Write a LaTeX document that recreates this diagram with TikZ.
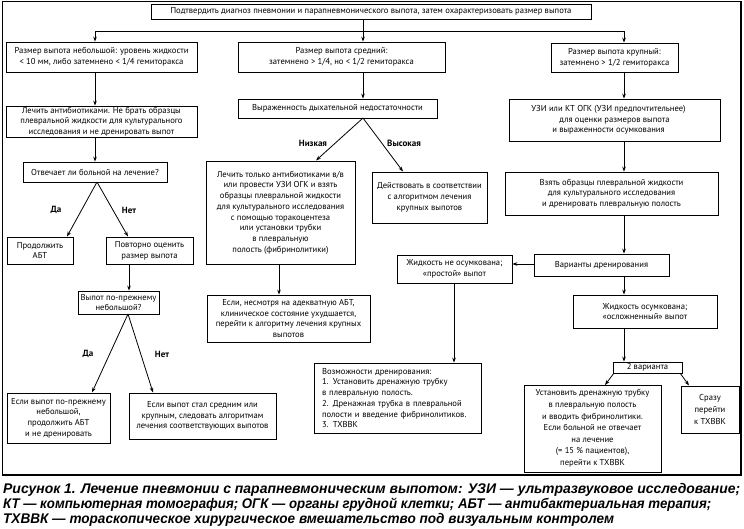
\documentclass[tikz,border=0pt]{standalone}
\usepackage{fontspec}
\usepackage{graphicx}
\setmainfont{PT Sans}
\newfontfamily\capfont{Liberation Sans}
\usetikzlibrary{arrows.meta}
\begin{document}
\begin{tikzpicture}[x=1pt,y=-1pt,
 bx/.style={draw, line width=0.8pt, inner sep=0pt, align=center, font=\fontsize{8.6}{10.7}\selectfont},
 conn/.style={line width=0.8pt},
 arr/.style={line width=0.8pt, -{Stealth[length=5pt,width=3.6pt]}},
 lab/.style={font=\fontsize{9}{11}\selectfont\bfseries, inner sep=0pt},
 captxt/.style={anchor=base west, inner sep=0pt, font=\capfont\fontsize{14}{15}\selectfont\bfseries\itshape}]
\useasboundingbox (0,0) rectangle (744,528);
\draw[line width=1.4pt] (2.5,1.5) rectangle (741,475);

% top row
\node[bx, minimum width=440, minimum height=15] (top) at (371,11.5) {Подтвердить диагноз пневмонии и парапневмонического выпота, затем охарактеризовать размер выпота};
\node[bx, minimum width=191, minimum height=30] (L1) at (101.5,57) {Размер выпота небольшой: уровень жидкости\\ < 10 мм, либо затемнено < 1/4 гемиторакса};
\node[bx, minimum width=207, minimum height=30] (M1) at (341.5,57) {Размер выпота средний:\\ затемнено > 1/4, но < 1/2 гемиторакса};
\node[bx, minimum width=127, minimum height=29] (R1) at (614.5,57.5) {Размер выпота крупный:\\ затемнено > 1/2 гемиторакса};

% left column
\node[bx, minimum width=191, minimum height=31] (L2) at (101.5,121.5) {Лечить антибиотиками. Не брать образцы\\ плевральной жидкости для культурального\\ исследования и не дренировать выпот};
\node[bx, minimum width=144, minimum height=20] (Q1) at (95,172) {Отвечает ли больной на лечение?};
\node[bx, minimum width=66, minimum height=27] (C1) at (40,250.5) {Продолжить\\ АБТ};
\node[bx, minimum width=87, minimum height=27] (P1) at (149.5,250.5) {Повторно оценить\\ размер выпота};
\node[bx, minimum width=81, minimum height=23] (Q2) at (118.5,302.5) {Выпот по-прежнему\\ небольшой?};
\node[bx, minimum width=103, minimum height=50] (E1) at (58.5,418) {Если выпот по-прежнему\\ небольшой,\\ продолжить АБТ\\ и не дренировать};
\node[bx, minimum width=147, minimum height=46] (E2) at (202.5,416) {Если выпот стал средним или\\ крупным, следовать алгоритмам\\ лечения соответствующих выпотов};

% middle column
\node[bx, minimum width=199, minimum height=19] (M2) at (337.5,108.5) {Выраженность дыхательной недостаточности};
\node[bx, minimum width=149, minimum height=103] (ML) at (280.5,212.5) {Лечить только антибиотиками в/в\\ или провести УЗИ ОГК и взять\\ образцы плевральной жидкости\\ для культурального исследования\\ с помощью торакоцентеза\\ или установки трубки\\ в плевральную\\ полость (фибринолитики)};
\node[bx, minimum width=115, minimum height=51] (MH) at (429.5,197.5) {Действовать в соответствии\\ с алгоритмом лечения\\ крупных выпотов};
\node[bx, minimum width=163, minimum height=47] (MW) at (288.5,318.5) {Если, несмотря на адекватную АБТ,\\ клиническое состояние ухудшается,\\ перейти к алгоритму лечения крупных\\ выпотов};

% right column
\node[bx, minimum width=211, minimum height=42] (R2) at (614.5,120) {УЗИ или КТ ОГК (УЗИ предпочтительнее)\hspace*{12pt}\\ для оценки размеров выпота\hspace*{12pt}\\ и выраженности осумкования\hspace*{12pt}};
\node[bx, minimum width=213, minimum height=43] (R3) at (611.5,193.5) {Взять образцы плевральной жидкости\\ для культурального исследования\\ и дренировать плевральную полость};
\node[bx, minimum width=135, minimum height=22] (R4) at (601.5,265) {Варианты дренирования};
\node[bx, minimum width=115, minimum height=28] (S1) at (454.5,269) {Жидкость не осумкована;\\ «простой» выпот};
\node[bx, minimum width=167, minimum height=70, text width=151, align=left] (S2) at (397.5,398) {Возможности дренирования:\\ 1. Установить дренажную трубку\\ в плевральную полость.\\ 2. Дренажная трубка в плевральной\\ полости и введение фибринолитиков.\\ 3. ТХВВК};
\node[bx, minimum width=144, minimum height=33] (K1) at (645,311.5) {Жидкость осумкована;\\ «осложненный» выпот};
\node[bx, minimum width=69, minimum height=11] (V2) at (647.5,367.5) {2 варианта};
\node[bx, minimum width=137, minimum height=87, font=\fontsize{8.6}{11.6}\selectfont] (T1) at (592.5,428.5) {Установить дренажную трубку\\ в плевральную полость\\ и вводить фибринолитики.\\ Если больной не отвечает\\ на лечение\\ (= 15 \% пациентов),\\ перейти к ТХВВК};
\node[bx, minimum width=58, minimum height=47, font=\fontsize{8.6}{11.6}\selectfont] (T2) at (710,409.5) {Сразу\\ перейти\\ к ТХВВК};

% helper coordinates
\coordinate (jl) at (95,31);
\coordinate (jm) at (363,31);
\coordinate (jr) at (624,31);
\coordinate (xa) at (95,0);
\coordinate (xp) at (129,0);
\coordinate (xm) at (363,0);
\coordinate (xw) at (279,0);
\coordinate (xr) at (624,0);
\coordinate (xs) at (454,0);
\coordinate (yh) at (0,264);
\coordinate (q1o) at (97,182);
\coordinate (c1t) at (67,236.5);
\coordinate (p1t) at (128,236.5);
\coordinate (q2o) at (128,314);
\coordinate (e1t) at (92,392.5);
\coordinate (e2t) at (153,392.5);
\coordinate (m2o) at (363,118);
\coordinate (mlt) at (316,160.5);
\coordinate (mht) at (403,171.5);
\coordinate (v2l) at (614,373);
\coordinate (v2r) at (680,373);
\coordinate (t1t) at (605,385);
\coordinate (t2t) at (689,385.5);

% connectors: top
\draw[conn] (top.south -| jm) -- (jm);
\draw[conn] (jl) -- (jr);
\draw[arr] (jl) -- (L1.north -| jl);
\draw[arr] (jm) -- (M1.north -| jm);
\draw[arr] (jr) -- (R1.north -| jr);

% left
\draw[arr] (L1.south -| xa) -- (L2.north -| xa);
\draw[arr] (L2.south -| xa) -- (Q1.north -| xa);
\draw[arr] (q1o) -- (c1t);
\draw[arr] (q1o) -- (p1t);
\draw[arr] (P1.south -| xp) -- (Q2.north -| xp);
\draw[arr] (q2o) -- (e1t);
\draw[arr] (q2o) -- (e2t);
\node[lab] (da1) at (56,210) {Да};
\node[lab] (net1) at (129,210) {Нет};
\node[lab] (da2) at (88,354) {Да};
\node[lab] (net2) at (162,354) {Нет};

% middle
\draw[arr] (M1.south -| xm) -- (M2.north -| xm);
\draw[arr] (m2o) -- (mlt);
\draw[arr] (m2o) -- (mht);
\draw[arr] (ML.south -| xw) -- (MW.north -| xw);
\node[lab] (niz) at (313,143) {Низкая};
\node[lab] (vys) at (404,143) {Высокая};

% right
\draw[arr] (R1.south -| xr) -- (R2.north -| xr);
\draw[arr] (R2.south -| xr) -- (R3.north -| xr);
\draw[arr] (R3.south -| xr) -- (R4.north -| xr);
\draw[arr] (R4.west |- yh) -- (S1.east |- yh);
\draw[arr] (R4.south -| xr) -- (K1.north -| xr);
\draw[arr] (S1.south -| xs) -- (S2.north -| xs);
\draw[arr] (K1.south -| xr) -- (V2.north -| xr);
\draw[arr] (v2l) -- (t1t);
\draw[arr] (v2r) -- (t2t);

% caption
\node[captxt] (cap1) at (3,493.5) {\resizebox{737pt}{\height}{Рисунок 1. Лечение пневмонии с парапневмоническим выпотом: УЗИ — ультразвуковое исследование;}};
\node[captxt] (cap2) at (3,508.5) {\resizebox{708pt}{\height}{КТ — компьютерная томография; ОГК — органы грудной клетки; АБТ — антибактериальная терапия;}};
\node[captxt] (cap3) at (3,523.5) {\resizebox{611pt}{\height}{ТХВВК — тораскопическое хирургическое вмешательство под визуальным контролем}};
\end{tikzpicture}
\end{document}
